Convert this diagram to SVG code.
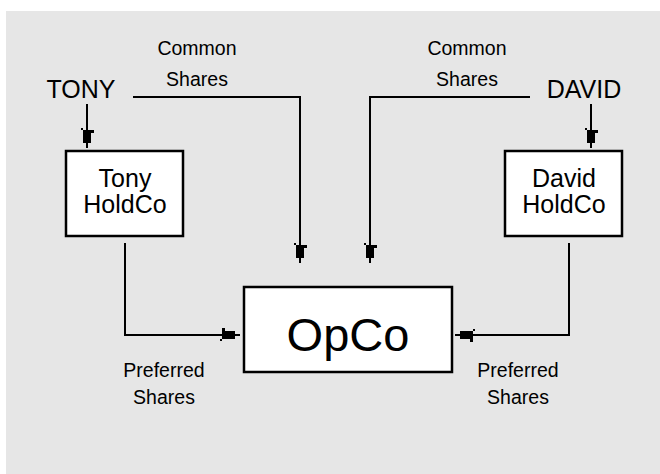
<svg xmlns="http://www.w3.org/2000/svg" width="660" height="474" viewBox="0 0 660 474">
  <style>
    .box { fill: #ffffff; stroke: #000000; stroke-width: 2.5; }
    .wire { fill: none; stroke: #000000; stroke-width: 2; }
    .lbl { font-family: "Liberation Sans", Arial, sans-serif; fill: #000000; text-anchor: middle; }
    .small { font-size: 19.5px; }
    .mid { font-size: 25px; }
    .big { font-size: 47px; }
    .name { font-size: 25px; }
  </style>
  <defs>
    <!-- arrowhead pointing down, tip at the origin -->
    <g id="head">
      <rect x="-6" y="-20" width="2" height="2" fill="#000"/>
      <polygon points="-4,-18 7,-18 7,-15 4,-15 4,-5 -4,-5" fill="#000"/>
    </g>
  </defs>

  <rect x="6" y="11" width="654" height="463" fill="#e6e6e6"/>

  <g id="connectors">
    <path class="wire" d="M87,104 V148"/>
    <use href="#head" transform="translate(87,148)"/>
    <path class="wire" d="M133,97 H300 V263"/>
    <use href="#head" transform="translate(300,263)"/>
    <path class="wire" d="M530,97 H370 V263"/>
    <use href="#head" transform="translate(370,263)"/>
    <path class="wire" d="M591,104 V148"/>
    <use href="#head" transform="translate(591,148)"/>
    <path class="wire" d="M125,243 V335 H240"/>
    <use href="#head" transform="translate(240,335) rotate(-90)"/>
    <path class="wire" d="M569,243 V335 H455"/>
    <use href="#head" transform="translate(455,335) rotate(90)"/>
  </g>

  <g id="tony">
    <text class="lbl name" x="81" y="98">TONY</text>
  </g>
  <g id="david">
    <text class="lbl name" x="584" y="98">DAVID</text>
  </g>

  <g id="tony-holdco">
    <rect class="box" x="66" y="151" width="117" height="85"/>
    <text class="lbl mid" x="125" y="187">Tony</text>
    <text class="lbl mid" x="125" y="213">HoldCo</text>
  </g>
  <g id="david-holdco">
    <rect class="box" x="505" y="151" width="117" height="85"/>
    <text class="lbl mid" x="564" y="187">David</text>
    <text class="lbl mid" x="564" y="213">HoldCo</text>
  </g>

  <g id="opco">
    <rect class="box" x="244" y="287" width="208" height="85"/>
    <text class="lbl big" x="348" y="351">OpCo</text>
  </g>

  <g id="labels">
    <text class="lbl small" x="197" y="55">Common</text>
    <text class="lbl small" x="197" y="86">Shares</text>
    <text class="lbl small" x="467" y="55">Common</text>
    <text class="lbl small" x="467" y="86">Shares</text>
    <text class="lbl small" x="164" y="377">Preferred</text>
    <text class="lbl small" x="164" y="404">Shares</text>
    <text class="lbl small" x="518" y="377">Preferred</text>
    <text class="lbl small" x="518" y="404">Shares</text>
  </g>
</svg>
